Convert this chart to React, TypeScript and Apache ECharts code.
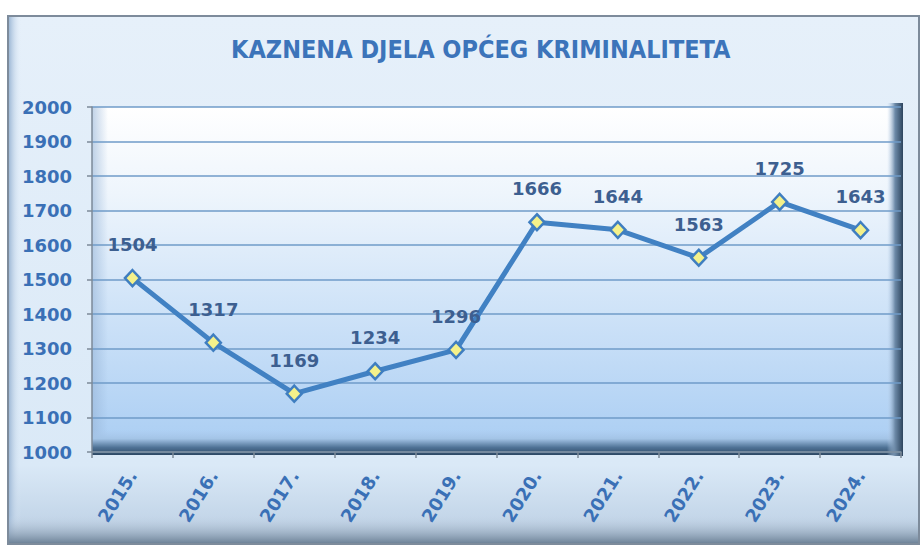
import React, { useEffect, useRef } from "react";
import * as echarts from "echarts";

const title = "KAZNENA DJELA OPĆEG KRIMINALITETA";
const years = ["2015.", "2016.", "2017.", "2018.", "2019.", "2020.", "2021.", "2022.", "2023.", "2024."];
const values = [1504, 1317, 1169, 1234, 1296, 1666, 1644, 1563, 1725, 1643];
const yMin = 1000;
const yMax = 2000;
const yStep = 100;

const W = 921;
const H = 547;
const GL = 92;
const GR = 20;
const GT = 107;
const GB = 95;

const lin = (x: number, y: number, x2: number, y2: number, stops: [number, string][]) =>
  new echarts.graphic.LinearGradient(x, y, x2, y2, stops.map(([offset, color]) => ({ offset, color })));

export default function App() {
  const ref = useRef<HTMLDivElement>(null);
  useEffect(() => {
    document.body.style.margin = "0";
    const chart = echarts.init(ref.current!, null, { renderer: "svg" });
    const plotW = W - GL - GR;
    const plotBottom = H - GB;
    chart.setOption({
      animation: false,
      backgroundColor: "#ffffff",
      title: {
        text: title,
        left: 226,
        top: 32,
        textStyle: {
          fontFamily: "DejaVu Sans Condensed, DejaVu Sans, sans-serif",
          fontWeight: "bold",
          fontSize: 25,
          color: "#3c74ba",
        },
      },
      graphic: [
        {
          type: "rect",
          z: -10,
          shape: { x: 8, y: 16, width: 911, height: 528 },
          style: { fill: lin(0, 0, 0, 1, [[0, "#e6f0fa"], [0.85, "#dae9f7"], [1, "#b9cde2"]]), stroke: "#7d8b9b", lineWidth: 2 },
        },
        {
          type: "rect",
          z: -9,
          shape: { x: 9, y: 17, width: 12, height: 526 },
          style: { fill: lin(0, 0, 1, 0, [[0, "#9fb9d6"], [1, "rgba(224,236,248,0)"]]) },
        },
        {
          type: "rect",
          z: -9,
          shape: { x: 9, y: 515, width: 909, height: 28 },
          style: { fill: lin(0, 0, 0, 1, [[0, "rgba(200,215,232,0)"], [1, "#6f8499"]]) },
        },
        {
          type: "rect",
          z: -8,
          shape: { x: GL, y: GT, width: plotW, height: plotBottom - GT },
          style: { fill: lin(0, 0, 0, 1, [[0, "#ffffff"], [0.25, "#eef5fc"], [1, "#a9cdf3"]]) },
        },
        {
          type: "rect",
          z: -7,
          shape: { x: GL, y: GT, width: 16, height: plotBottom - GT },
          style: { fill: lin(0, 0, 1, 0, [[0, "rgba(150,180,215,0.6)"], [1, "rgba(150,180,215,0)"]]) },
        },
        {
          type: "rect",
          z: -7,
          shape: { x: GL, y: plotBottom - 22, width: plotW, height: 25 },
          style: { fill: lin(0, 0, 0, 1, [[0, "rgba(170,200,235,0)"], [0.35, "#a3c4e6"], [0.7, "#4f7295"], [1, "#2c4864"]]) },
        },
        {
          type: "rect",
          z: -7,
          shape: { x: W - GR - 14, y: GT - 4, width: 16, height: plotBottom - GT + 8 },
          style: { fill: lin(0, 0, 1, 0, [[0, "rgba(190,212,238,0)"], [0.5, "#6d8aa8"], [1, "#2d455e"]]) },
        },
      ],
      grid: { left: GL, right: GR, top: GT, bottom: GB, containLabel: false },
      xAxis: {
        type: "category",
        data: years,
        boundaryGap: true,
        axisLine: { show: true, lineStyle: { color: "#7c8a98", width: 1.5 } },
        axisTick: { show: true, length: 6, lineStyle: { color: "#7c8a98", width: 1.5 } },
        axisLabel: {
          rotate: 58,
          margin: 20,
          fontFamily: "DejaVu Sans, sans-serif",
          fontWeight: "bold",
          fontSize: 18,
          color: "#3a70b6",
        },
      },
      yAxis: {
        type: "value",
        min: yMin,
        max: yMax,
        interval: yStep,
        axisLine: { show: true, lineStyle: { color: "#7c8a98", width: 1.5 } },
        axisTick: { show: true, length: 5, lineStyle: { color: "#7c8a98", width: 1.5 } },
        splitLine: { show: true, lineStyle: { color: "#6f9bc9", width: 1.5 } },
        axisLabel: {
          margin: 20,
          formatter: (v: number) => String(v),
          fontFamily: "DejaVu Sans, sans-serif",
          fontWeight: "bold",
          fontSize: 18,
          color: "#3a70b6",
        },
      },
      series: [
        {
          type: "line",
          data: values,
          symbol: "diamond",
          symbolSize: [15, 16],
          lineStyle: { color: "#4181c3", width: 5 },
          itemStyle: { color: "#f4f18a", borderColor: "#3f7ec0", borderWidth: 2.5 },
          label: {
            show: true,
            position: "top",
            distance: 15,
            fontFamily: "DejaVu Sans, sans-serif",
            fontWeight: "bold",
            fontSize: 18,
            color: "#3d5f90",
          },
          z: 5,
        },
      ],
    });
    return () => chart.dispose();
  }, []);
  return <div ref={ref} style={{ width: W, height: H }} />;
}
